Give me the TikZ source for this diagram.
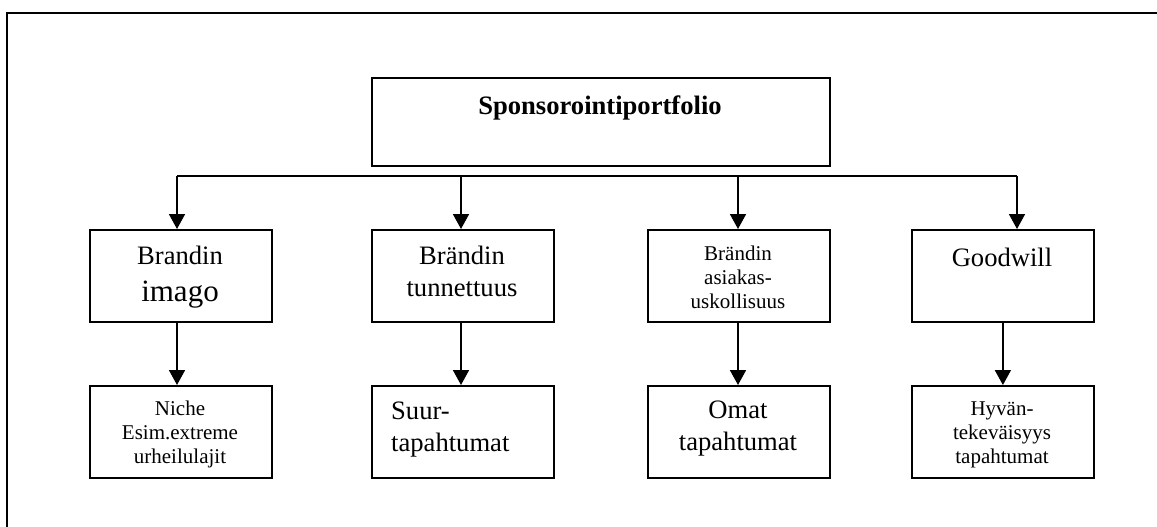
\documentclass[tikz,border=0pt]{standalone}
\usepackage{fontspec}
\setmainfont{Liberation Serif}
\usetikzlibrary{arrows.meta}
\begin{document}
\begin{tikzpicture}[x=1pt,y=-1pt,
  box/.style={draw, line width=1.8pt, inner sep=0pt, anchor=north west,
    minimum width=182pt, minimum height=92pt},
  lbl/.style={inner sep=0pt, anchor=base, align=center},
  big/.style={font=\fontsize{26.6}{31.5}\selectfont},
  small/.style={font=\fontsize{21}{24}\selectfont},
  link/.style={line width=1.8pt},
  arr/.style={link, -{Triangle[width=16pt,length=15pt]}}]

\useasboundingbox (0,0) rectangle (1157,527);

% open frame
\draw[line width=2pt] (7,527) -- (7,13) -- (1157,13);

% top box
\node[box, minimum width=458pt, minimum height=88pt] (root) at (371,77) {};
\node[lbl, font=\bfseries\fontsize{26.6}{31}\selectfont] (rootT) at (600,114) {Sponsorointiportfolio};

% second row (labels anchored at the baseline of their last line)
\node[box] (b1) at (89,229) {};
\node[box] (b2) at (371,229) {};
\node[box] (b3) at (647,229) {};
\node[box] (b4) at (911,229) {};

\node[lbl, big] (b1T) at (180,301) {Brandin\\[5.5pt]{\fontsize{31}{37}\selectfont imago}};
\node[lbl, big] (b2T) at (462,296) {Brändin\\tunnettuus};
\node[lbl, small] (b3T) at (738,308) {Brändin\\asiakas-\\uskollisuus};
\node[lbl, big] (b4T) at (1002,266) {Goodwill};

% third row
\node[box] (c1) at (89,385) {};
\node[box] (c2) at (371,385) {};
\node[box] (c3) at (647,385) {};
\node[box] (c4) at (911,385) {};

\node[lbl, small] (c1T) at (180,463) {Niche\\Esim.extreme\\urheilulajit};
\node[lbl, big, anchor=base west, align=left] (c2T) at (391,451) {Suur-\\tapahtumat};
\node[lbl, big] (c3T) at (738,450) {Omat\\tapahtumat};
\node[lbl, small] (c4T) at (1002,463) {Hyvän-\\tekeväisyys\\tapahtumat};

% distribution bar under the top box
\coordinate (busL) at (177,176);
\coordinate (bus2) at (461,176);
\coordinate (bus3) at (738,176);
\coordinate (busR) at (1017,176);
\draw[link] (busL) -- (busR);
\draw[arr] (busL) -- (busL |- b1.north);
\draw[arr] (bus2) -- (bus2 |- b2.north);
\draw[arr] (bus3) -- (bus3 |- b3.north);
\draw[arr] (busR) -- (busR |- b4.north);

% second row to third row
\draw[arr] (b1.south -| busL) -- (c1.north -| busL);
\draw[arr] (b2.south -| bus2) -- (c2.north -| bus2);
\draw[arr] (b3.south -| bus3) -- (c3.north -| bus3);
\draw[arr] (b4.south) -- (c4.north);
\end{tikzpicture}
\end{document}
